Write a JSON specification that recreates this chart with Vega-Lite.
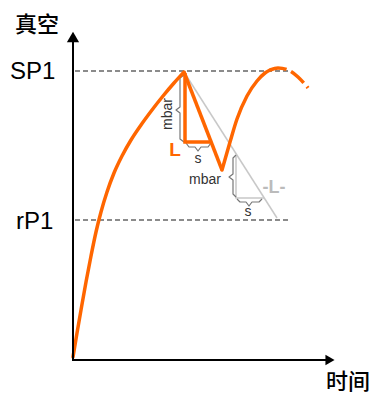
{
  "$schema": "https://vega.github.io/schema/vega-lite/v6.json",
  "width": 375,
  "height": 396,
  "padding": 0,
  "autosize": "none",
  "background": "white",
  "config": {"view": {"stroke": null}},
  "datasets": {
    "lines": [
      {"seg": "rise1", "t": 1, "x": 73, "y": 357},
      {"seg": "rise1", "t": 2, "x": 77, "y": 333},
      {"seg": "rise1", "t": 3, "x": 81, "y": 310},
      {"seg": "rise1", "t": 4, "x": 86, "y": 282},
      {"seg": "rise1", "t": 5, "x": 91, "y": 256},
      {"seg": "rise1", "t": 6, "x": 96, "y": 232},
      {"seg": "rise1", "t": 7, "x": 101, "y": 212},
      {"seg": "rise1", "t": 8, "x": 107, "y": 192},
      {"seg": "rise1", "t": 9, "x": 114, "y": 173},
      {"seg": "rise1", "t": 10, "x": 122, "y": 156},
      {"seg": "rise1", "t": 11, "x": 131, "y": 140},
      {"seg": "rise1", "t": 12, "x": 141, "y": 125},
      {"seg": "rise1", "t": 13, "x": 152, "y": 110},
      {"seg": "rise1", "t": 14, "x": 163, "y": 96},
      {"seg": "rise1", "t": 15, "x": 174, "y": 83},
      {"seg": "rise1", "t": 16, "x": 184, "y": 72},
      {"seg": "rise2", "t": 1, "x": 222, "y": 170},
      {"seg": "rise2", "t": 2, "x": 230, "y": 142},
      {"seg": "rise2", "t": 3, "x": 237, "y": 119},
      {"seg": "rise2", "t": 4, "x": 247, "y": 96},
      {"seg": "rise2", "t": 5, "x": 257, "y": 81},
      {"seg": "rise2", "t": 6, "x": 265, "y": 73},
      {"seg": "rise2", "t": 7, "x": 270, "y": 70},
      {"seg": "descent", "t": 1, "x": 184, "y": 72},
      {"seg": "descent", "t": 2, "x": 222, "y": 170},
      {"seg": "otri", "t": 1, "x": 185, "y": 73},
      {"seg": "otri", "t": 2, "x": 185, "y": 142},
      {"seg": "otri", "t": 3, "x": 211, "y": 142},
      {"seg": "dash", "t": 1, "x": 270, "y": 70},
      {"seg": "dash", "t": 2, "x": 278, "y": 68},
      {"seg": "dash", "t": 3, "x": 288, "y": 70},
      {"seg": "dash", "t": 4, "x": 298, "y": 77},
      {"seg": "dash", "t": 5, "x": 308, "y": 88},
      {"seg": "diag", "t": 1, "x": 184, "y": 72},
      {"seg": "diag", "t": 2, "x": 277, "y": 218},
      {"seg": "gtri", "t": 1, "x": 236, "y": 155},
      {"seg": "gtri", "t": 2, "x": 236, "y": 198},
      {"seg": "gtri", "t": 3, "x": 264, "y": 198},
      {"seg": "sp1", "t": 1, "x": 75, "y": 71},
      {"seg": "sp1", "t": 2, "x": 290, "y": 71},
      {"seg": "rp1", "t": 1, "x": 75, "y": 220},
      {"seg": "rp1", "t": 2, "x": 290, "y": 220},
      {"seg": "yaxis", "t": 1, "x": 73, "y": 361},
      {"seg": "yaxis", "t": 2, "x": 73, "y": 40},
      {"seg": "xaxis", "t": 1, "x": 72, "y": 360},
      {"seg": "xaxis", "t": 2, "x": 328, "y": 360},
      {"seg": "brace1", "t": 1, "x": 184, "y": 75},
      {"seg": "brace1", "t": 2, "x": 180, "y": 78},
      {"seg": "brace1", "t": 3, "x": 180, "y": 107},
      {"seg": "brace1", "t": 4, "x": 176, "y": 110},
      {"seg": "brace1", "t": 5, "x": 180, "y": 113},
      {"seg": "brace1", "t": 6, "x": 180, "y": 139},
      {"seg": "brace1", "t": 7, "x": 184, "y": 142},
      {"seg": "brace2", "t": 1, "x": 186, "y": 143},
      {"seg": "brace2", "t": 2, "x": 189, "y": 147},
      {"seg": "brace2", "t": 3, "x": 195, "y": 147},
      {"seg": "brace2", "t": 4, "x": 198, "y": 151},
      {"seg": "brace2", "t": 5, "x": 201, "y": 147},
      {"seg": "brace2", "t": 6, "x": 208, "y": 147},
      {"seg": "brace2", "t": 7, "x": 211, "y": 143},
      {"seg": "brace3", "t": 1, "x": 236, "y": 155},
      {"seg": "brace3", "t": 2, "x": 233, "y": 158},
      {"seg": "brace3", "t": 3, "x": 233, "y": 174},
      {"seg": "brace3", "t": 4, "x": 229, "y": 177},
      {"seg": "brace3", "t": 5, "x": 233, "y": 180},
      {"seg": "brace3", "t": 6, "x": 233, "y": 194},
      {"seg": "brace3", "t": 7, "x": 236, "y": 197},
      {"seg": "brace4", "t": 1, "x": 237, "y": 199},
      {"seg": "brace4", "t": 2, "x": 240, "y": 202},
      {"seg": "brace4", "t": 3, "x": 246, "y": 202},
      {"seg": "brace4", "t": 4, "x": 249, "y": 206},
      {"seg": "brace4", "t": 5, "x": 252, "y": 202},
      {"seg": "brace4", "t": 6, "x": 259, "y": 202},
      {"seg": "brace4", "t": 7, "x": 262, "y": 199}
    ]
  },
  "encoding": {
    "x": {"field": "x", "type": "quantitative", "scale": {"domain": [0, 375], "nice": false, "zero": false}, "axis": null},
    "y": {"field": "y", "type": "quantitative", "scale": {"domain": [0, 396], "nice": false, "zero": false, "reverse": true}, "axis": null}
  },
  "layer": [
    {
      "data": {"name": "lines"},
      "transform": [{"filter": {"field": "seg", "oneOf": ["sp1", "rp1"]}}],
      "mark": {"type": "line", "color": "#666666", "strokeWidth": 1.3, "strokeDash": [5, 3]},
      "encoding": {"detail": {"field": "seg"}, "order": {"field": "t"}}
    },
    {
      "data": {"name": "lines"},
      "transform": [{"filter": {"field": "seg", "oneOf": ["diag", "gtri"]}}],
      "mark": {"type": "line", "color": "#c8c8c8", "strokeWidth": 1.5},
      "encoding": {"detail": {"field": "seg"}, "order": {"field": "t"}}
    },
    {
      "data": {"name": "lines"},
      "transform": [{"filter": {"field": "seg", "oneOf": ["brace1", "brace2", "brace3", "brace4"]}}],
      "mark": {"type": "line", "color": "#777777", "strokeWidth": 1.2, "strokeJoin": "round"},
      "encoding": {"detail": {"field": "seg"}, "order": {"field": "t"}}
    },
    {
      "data": {"name": "lines"},
      "transform": [{"filter": {"field": "seg", "oneOf": ["rise1", "rise2"]}}],
      "mark": {"type": "line", "color": "#ff6600", "strokeWidth": 3.5, "interpolate": "monotone", "strokeCap": "round"},
      "encoding": {"detail": {"field": "seg"}, "order": {"field": "t"}}
    },
    {
      "data": {"name": "lines"},
      "transform": [{"filter": {"field": "seg", "oneOf": ["descent", "otri"]}}],
      "mark": {"type": "line", "color": "#ff6600", "strokeWidth": 3.5, "strokeJoin": "miter"},
      "encoding": {"detail": {"field": "seg"}, "order": {"field": "t"}}
    },
    {
      "data": {"name": "lines"},
      "transform": [{"filter": {"field": "seg", "equal": "dash"}}],
      "mark": {"type": "line", "color": "#ff6600", "strokeWidth": 3.5, "interpolate": "monotone", "strokeDash": [17, 5]},
      "encoding": {"detail": {"field": "seg"}, "order": {"field": "t"}}
    },
    {
      "data": {"name": "lines"},
      "transform": [{"filter": {"field": "seg", "oneOf": ["xaxis", "yaxis"]}}],
      "mark": {"type": "line", "color": "#000000", "strokeWidth": 2},
      "encoding": {"detail": {"field": "seg"}, "order": {"field": "t"}}
    },
    {
      "data": {"values": [{"x": 73, "y": 37}]},
      "mark": {"type": "point", "shape": "triangle-up", "filled": true, "color": "#000000", "size": 150, "opacity": 1}
    },
    {
      "data": {"values": [{"x": 330, "y": 360}]},
      "mark": {"type": "point", "shape": "triangle-right", "filled": true, "color": "#000000", "size": 110, "opacity": 1}
    },
    {
      "data": {"values": [{"x": 37, "y": 25, "label": "真空"}, {"x": 348, "y": 382, "label": "时间"}]},
      "mark": {"type": "text", "font": "Noto Sans CJK SC", "fontSize": 22, "fontWeight": 500, "color": "#000000", "align": "center", "baseline": "middle"},
      "encoding": {"text": {"field": "label"}}
    },
    {
      "data": {"values": [{"x": 10, "y": 72, "label": "SP1"}, {"x": 16, "y": 222, "label": "rP1"}]},
      "mark": {"type": "text", "font": "Liberation Sans", "fontSize": 24, "color": "#000000", "align": "left", "baseline": "middle"},
      "encoding": {"text": {"field": "label"}}
    },
    {
      "data": {"values": [{"x": 168, "y": 114, "label": "mbar"}]},
      "mark": {"type": "text", "font": "Liberation Sans", "fontSize": 14, "color": "#333333", "align": "center", "baseline": "middle", "angle": -90},
      "encoding": {"text": {"field": "label"}}
    },
    {
      "data": {"values": [{"x": 205, "y": 180, "label": "mbar"}, {"x": 198, "y": 159, "label": "s"}, {"x": 248, "y": 212, "label": "s"}]},
      "mark": {"type": "text", "font": "Liberation Sans", "fontSize": 14, "color": "#333333", "align": "center", "baseline": "middle"},
      "encoding": {"text": {"field": "label"}}
    },
    {
      "data": {"values": [{"x": 175, "y": 150, "label": "L"}]},
      "mark": {"type": "text", "font": "Liberation Sans", "fontSize": 19, "fontWeight": "bold", "color": "#ff6600", "align": "center", "baseline": "middle"},
      "encoding": {"text": {"field": "label"}}
    },
    {
      "data": {"values": [{"x": 274, "y": 188, "label": "-L-"}]},
      "mark": {"type": "text", "font": "Liberation Sans", "fontSize": 18, "fontWeight": "bold", "color": "#bbbbbb", "align": "center", "baseline": "middle"},
      "encoding": {"text": {"field": "label"}}
    }
  ]
}
